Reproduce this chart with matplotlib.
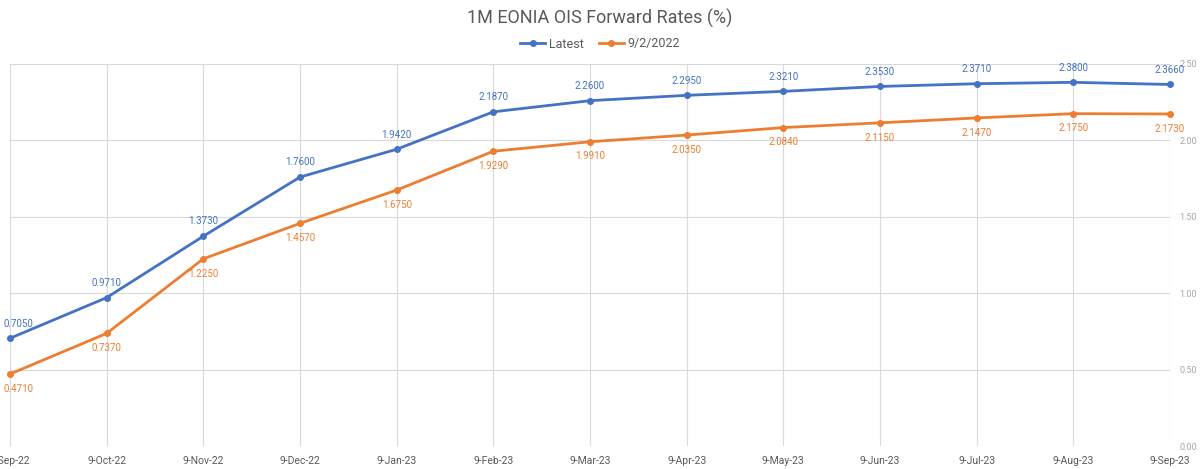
import matplotlib.pyplot as plt

fechas = ['9-Sep-22', '9-Oct-22', '9-Nov-22', '9-Dec-22', '9-Jan-23', '9-Feb-23', '9-Mar-23',
          '9-Apr-23', '9-May-23', '9-Jun-23', '9-Jul-23', '9-Aug-23', '9-Sep-23']
latest = [0.7050, 0.9710, 1.3730, 1.7600, 1.9420, 2.1870, 2.2600,
          2.2950, 2.3210, 2.3530, 2.3710, 2.3800, 2.3660]
previo = [0.4710, 0.7370, 1.2250, 1.4570, 1.6750, 1.9290, 1.9910,
          2.0350, 2.0840, 2.1150, 2.1470, 2.1750, 2.1730]
yticks = [0.0, 0.5, 1.0, 1.5, 2.0, 2.5]

azul = '#4472C4'
naranja = '#ED7D31'
gris = '#595959'

plt.rcParams['font.family'] = ['Roboto', 'DejaVu Sans']

fig = plt.figure(figsize=(12, 4.69), dpi=100)
ax = fig.add_axes([10 / 1200, 1 - 446 / 469, 1160 / 1200, 382 / 469])

x = list(range(len(fechas)))
ax.plot(x, latest, color=azul, lw=2, marker='o', ms=4, label='Latest', clip_on=False, zorder=3)
ax.plot(x, previo, color=naranja, lw=2, marker='o', ms=4, label='9/2/2022', clip_on=False, zorder=3)

for i in x:
    # la primera etiqueta se corre para que no se corte en el borde
    dx, ha = (-5, 'left') if i == 0 else (0, 'center')
    ax.annotate(f'{latest[i]:.4f}', (i, latest[i]), xytext=(dx, 7), textcoords='offset points',
                ha=ha, va='bottom', fontsize=7, color=azul)
    ax.annotate(f'{previo[i]:.4f}', (i, previo[i]), xytext=(dx, -7), textcoords='offset points',
                ha=ha, va='top', fontsize=7, color=naranja)

ax.set_xlim(0, len(fechas) - 1)
ax.set_ylim(0, 2.5)
ax.set_xticks(x)
ax.set_xticklabels(fechas)
ax.set_yticks(yticks)
ax.set_yticklabels([f'{v:.2f}' for v in yticks])
ax.yaxis.tick_right()
ax.tick_params(axis='x', length=0, pad=7, labelsize=7.5, colors=gris)
ax.tick_params(axis='y', length=0, pad=7, labelsize=6.5, colors='#a6a6a6')
ax.grid(True, color='#d9d9d9', lw=0.8)
ax.set_axisbelow(True)
for s in ax.spines.values():
    s.set_visible(False)

fig.text(0.5, 1 - 18 / 469, '1M EONIA OIS Forward Rates (%)', ha='center', va='center',
         fontsize=13, color=gris)
fig.legend(loc='center', bbox_to_anchor=(0.5, 1 - 44 / 469), ncol=2, frameon=False,
           fontsize=9, labelcolor=gris, handlelength=2, columnspacing=1.2, handletextpad=0.3)

fig.savefig('out.png', dpi=100)
